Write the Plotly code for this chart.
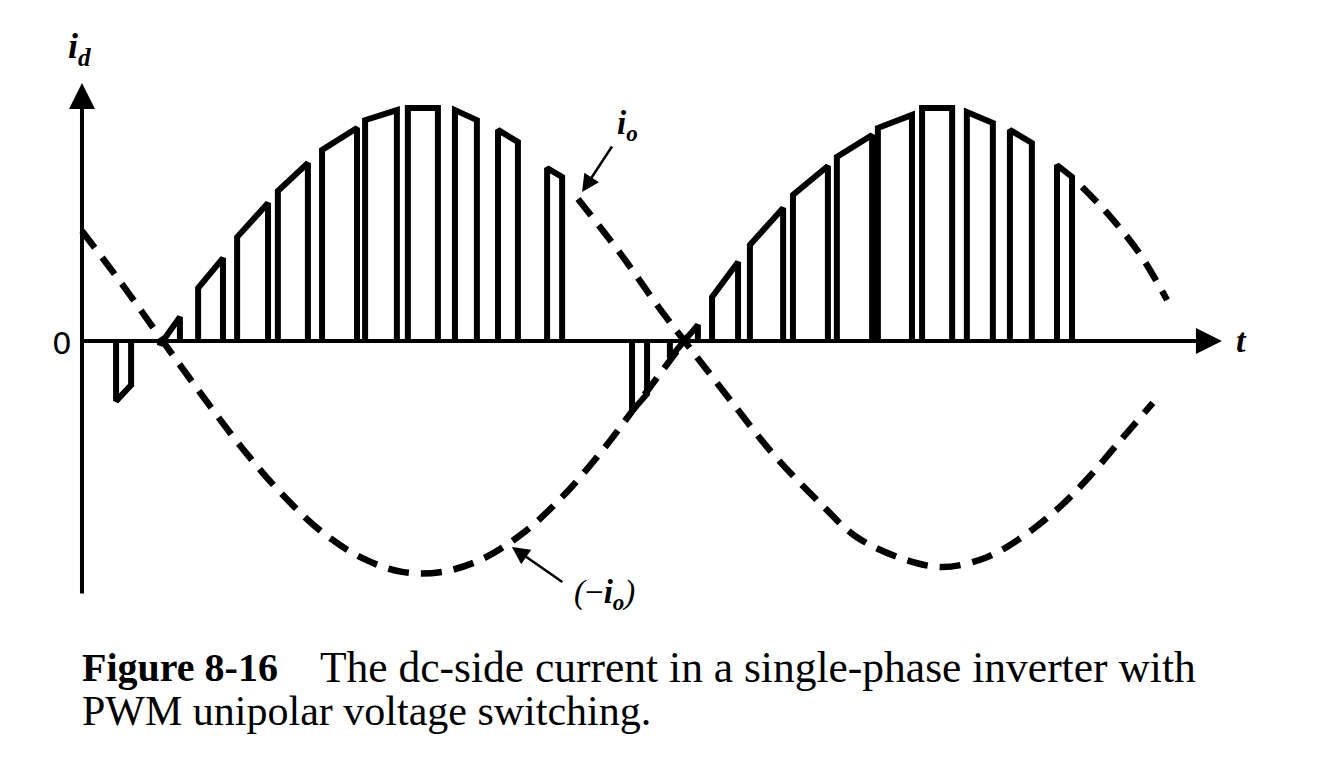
import plotly.graph_objects as go

# ---------------- data (t in electrical degrees, current in per-unit of i_o peak) -------------
# PWM pulses of the dc-side current i_d, first half-cycle (tops follow i_o)
pulse1_start = [11.8, 27.0, 40.2, 53.7, 67.8, 83.1, 98.0, 112.8, 129.1, 144.0, 161.0]
pulse1_end   = [17.0, 33.9, 48.8, 64.4, 78.2, 95.2, 109.0, 123.2, 136.7, 150.9, 166.2]
pulse1_top_s = [-0.258, -0.017, 0.227, 0.446, 0.644, 0.820, 0.948, 1.000, 0.991, 0.906, 0.742]
pulse1_top_e = [-0.189, 0.103, 0.356, 0.592, 0.764, 0.914, 0.991, 1.000, 0.948, 0.854, 0.704]

# second half-cycle (tops follow -i_o)
pulse2_start = [190.4, 203.5, 218.1, 231.2, 246.1, 261.3, 275.5, 290.8, 306.3, 321.2, 337.5]
pulse2_end   = [195.6, 213.2, 227.1, 242.7, 258.2, 273.5, 287.3, 301.2, 315.3, 328.8, 342.7]
pulse2_top_s = [-0.300, -0.073, 0.189, 0.412, 0.627, 0.790, 0.914, 1.000, 0.983, 0.906, 0.755]
pulse2_top_e = [-0.227, 0.069, 0.339, 0.571, 0.751, 0.884, 0.970, 1.000, 0.936, 0.850, 0.704]

# dashed curve (-i_o), visible parts
neg_io_a_t = [0.0, 13.8, 27.7, 41.5, 55.4, 69.2, 83.1, 96.9, 110.8, 124.6, 138.5, 152.3, 166.2, 180.0, 193.8, 209.8]
neg_io_a_v = [0.472, 0.245, 0.004, -0.232, -0.459, -0.657, -0.820, -0.931, -0.991, -0.991, -0.936, -0.828, -0.670, -0.472, -0.245, 0.021]
neg_io_b_t = [346.2, 355.8, 366.2, 375.6]
neg_io_b_v = [0.661, 0.536, 0.373, 0.176]

# dashed curve (i_o), visible part
io_t = [171.7, 186.2, 200.1, 211.8, 224.7, 239.5, 256.8, 267.6, 283.2, 297.7, 312.6, 325.0, 338.5, 348.6, 359.3, 370.7]
io_v = [0.609, 0.378, 0.137, -0.052, -0.258, -0.489, -0.712, -0.837, -0.931, -0.970, -0.931, -0.845, -0.712, -0.584, -0.429, -0.266]

# axes extents
t_axis_end = 394.6
i_axis_top = 1.107
i_axis_bottom = -1.090

caption_bold = "Figure 8-16"
caption_line1 = "The dc-side current in a single-phase inverter with"
caption_line2 = "PWM unipolar voltage switching."

# ---------------- figure -------------
W, H = 1338, 775
X_RANGE = [-28.38, 434.77]
Y_RANGE = [-1.8627, 1.4635]


def pulse_path(starts, ends, tops_s, tops_e):
    xs, ys = [], []
    for a, b, ta, tb in zip(starts, ends, tops_s, tops_e):
        xs += [a, a, b, b, None]
        ys += [0, ta, tb, 0, None]
    return xs, ys


fig = go.Figure()

dash = "21px,12px"
for tt, vv in [(neg_io_a_t, neg_io_a_v), (neg_io_b_t, neg_io_b_v), (io_t, io_v)]:
    fig.add_trace(go.Scatter(x=tt, y=vv, mode="lines",
                             line=dict(color="black", width=6.5, dash=dash, shape="spline"),
                             hoverinfo="skip"))

for s, e, ts, te in [(pulse1_start, pulse1_end, pulse1_top_s, pulse1_top_e),
                     (pulse2_start, pulse2_end, pulse2_top_s, pulse2_top_e)]:
    xs, ys = pulse_path(s, e, ts, te)
    fig.add_trace(go.Scatter(x=xs, y=ys, mode="lines",
                             line=dict(color="black", width=6),
                             hoverinfo="skip"))

serif = "Liberation Serif"
ann = []
# axes with arrows
ann.append(dict(x=t_axis_end, y=0, ax=0, ay=0, xref="x", yref="y", axref="x", ayref="y",
                text="", showarrow=True, arrowhead=2, arrowsize=1.3, arrowwidth=4,
                arrowcolor="black", standoff=0, startstandoff=0))
ann.append(dict(x=0, y=i_axis_top, ax=0, ay=i_axis_bottom, xref="x", yref="y", axref="x", ayref="y",
                text="", showarrow=True, arrowhead=2, arrowsize=1.3, arrowwidth=4,
                arrowcolor="black", standoff=0, startstandoff=0))
# leader arrows
ann.append(dict(x=173.1, y=0.639, ax=183.8, ay=0.841, xref="x", yref="y", axref="x", ayref="y",
                text="", showarrow=True, arrowhead=2, arrowsize=1.4, arrowwidth=2.5,
                arrowcolor="black", standoff=0))
ann.append(dict(x=148.8, y=-0.884, ax=166.8, ay=-1.039, xref="x", yref="y", axref="x", ayref="y",
                text="", showarrow=True, arrowhead=2, arrowsize=1.4, arrowwidth=2.5,
                arrowcolor="black", standoff=0))
# labels
ann.append(dict(x=-0.7, y=1.255, xref="x", yref="y", showarrow=False,
                text="<b><i>i</i></b><sub><b><i>d</i></b></sub>",
                font=dict(family=serif, size=36, color="black")))
ann.append(dict(x=189.0, y=0.927, xref="x", yref="y", showarrow=False,
                text="<b><i>i</i></b><sub><b><i>o</i></b></sub>",
                font=dict(family=serif, size=33, color="black")))
ann.append(dict(x=180.7, y=-1.086, xref="x", yref="y", showarrow=False,
                text="<i>(</i>−<b><i>i</i></b><sub><b><i>o</i></b></sub><i>)</i>",
                font=dict(family=serif, size=33, color="black")))
ann.append(dict(x=401.2, y=0, xref="x", yref="y", showarrow=False,
                text="<b><i>t</i></b>",
                font=dict(family=serif, size=34, color="black")))
ann.append(dict(x=-7.0, y=-0.01, xref="x", yref="y", showarrow=False,
                text="0",
                font=dict(family="DejaVu Sans", size=31, color="black")))
# caption
ann.append(dict(x=80 / W, y=1 - 667 / H, xref="paper", yref="paper", showarrow=False,
                xanchor="left", yanchor="middle", text="<b>" + caption_bold + "</b>",
                font=dict(family=serif, size=40, color="black")))
ann.append(dict(x=318 / W, y=1 - 667 / H, xref="paper", yref="paper", showarrow=False,
                xanchor="left", yanchor="middle", text=caption_line1,
                font=dict(family=serif, size=43.5, color="black")))
ann.append(dict(x=80 / W, y=1 - 711 / H, xref="paper", yref="paper", showarrow=False,
                xanchor="left", yanchor="middle", text=caption_line2,
                font=dict(family=serif, size=42, color="black")))

fig.update_layout(
    width=W, height=H,
    margin=dict(l=0, r=0, t=0, b=0),
    paper_bgcolor="white", plot_bgcolor="white",
    showlegend=False,
    xaxis=dict(range=X_RANGE, visible=False, fixedrange=True),
    yaxis=dict(range=Y_RANGE, visible=False, fixedrange=True),
    annotations=ann,
)

fig.write_html("out.html", config={"displayModeBar": False})
